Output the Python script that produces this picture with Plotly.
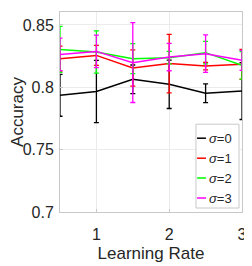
import plotly.graph_objects as go

learning_rate = [0.5, 1.0, 1.5, 2.0, 2.5, 3.0]

acc_sigma0 = [0.7936, 0.7966, 0.8064, 0.8024, 0.7952, 0.7970]
err_sigma0 = [0.0168, 0.0250, 0.0115, 0.0194, 0.0075, 0.0228]

acc_sigma1 = [0.8230, 0.8256, 0.8155, 0.8190, 0.8170, 0.8184]
err_sigma1 = [0.0100, 0.0080, 0.0145, 0.0235, 0.0030, 0.0120]

acc_sigma2 = [0.8304, 0.8283, 0.8230, 0.8238, 0.8278, 0.8176]
err_sigma2 = [0.0184, 0.0170, 0.0120, 0.0050, 0.0090, 0.0110]

acc_sigma3 = [0.8264, 0.8288, 0.8198, 0.8243, 0.8270, 0.8216]
err_sigma3 = [0.0130, 0.0130, 0.0320, 0.0110, 0.0150, 0.0080]

series_names = ["<i>σ</i>=0", "<i>σ</i>=1", "<i>σ</i>=2", "<i>σ</i>=3"]
series_colors = ["#000000", "#ff0000", "#00ff00", "#ff00ff"]

y_ticks = [0.7, 0.75, 0.8, 0.85]
y_tick_text = ["0.7", "0.75", "0.8", "0.85"]
x_ticks = [1, 2, 3]
x_tick_text = ["1", "2", "3"]

fig = go.Figure()
all_acc = [acc_sigma0, acc_sigma1, acc_sigma2, acc_sigma3]
all_err = [err_sigma0, err_sigma1, err_sigma2, err_sigma3]
for name, color, acc, err in zip(series_names, series_colors, all_acc, all_err):
    fig.add_trace(go.Scatter(
        x=learning_rate, y=acc, mode="lines", name=name,
        line=dict(color=color, width=1.5),
        error_y=dict(type="data", array=err, visible=True, color=color,
                     thickness=1.3, width=2.5),
        showlegend=False,
    ))

# Custom MATLAB-style legend (box, short line samples, labels)
fig.add_shape(type="rect", xref="paper", yref="paper", x0=0.747, x1=0.9835, y0=0.02, y1=0.439,
              line=dict(color="#c8c8c8", width=1), fillcolor="white", layer="above")
entry_y = [0.369, 0.269, 0.170, 0.070]
for name, color, yy in zip(series_names, series_colors, entry_y):
    fig.add_shape(type="line", xref="paper", yref="paper", x0=0.753, x1=0.802,
                  y0=yy, y1=yy, line=dict(color=color, width=1.5), layer="above")
    fig.add_annotation(x=0.805, y=yy, xref="paper", yref="paper", text=name,
                       showarrow=False, xanchor="left", yanchor="middle",
                       font=dict(family="Liberation Sans, Arial", size=13, color="#262626"))

fig.update_layout(
    width=244, height=258,
    margin=dict(l=52, r=10, t=4, b=54, autoexpand=False),
    paper_bgcolor="white", plot_bgcolor="white",
    font=dict(family="Liberation Sans, Arial", size=16, color="#262626"),
    xaxis=dict(range=[0.5, 3], tickvals=x_ticks, ticktext=x_tick_text,
               showgrid=True, gridcolor="#ebebeb", zeroline=False,
               showline=True, linecolor="#c8c8c8", mirror=True,
               ticks="inside", ticklen=3, tickcolor="#c8c8c8", automargin=False,
               ticklabelstandoff=8,
               title=dict(text="Learning Rate", font=dict(size=17), standoff=4)),
    yaxis=dict(range=[0.7, 0.8604], tickvals=y_ticks, ticktext=y_tick_text,
               showgrid=True, gridcolor="#ebebeb", zeroline=False,
               showline=True, linecolor="#c8c8c8", mirror=True,
               ticks="inside", ticklen=3, tickcolor="#c8c8c8", automargin=False,
               ticklabelstandoff=2,
               title=dict(text="Accuracy", font=dict(size=17), standoff=0)),
)

fig.write_html("out.html")
